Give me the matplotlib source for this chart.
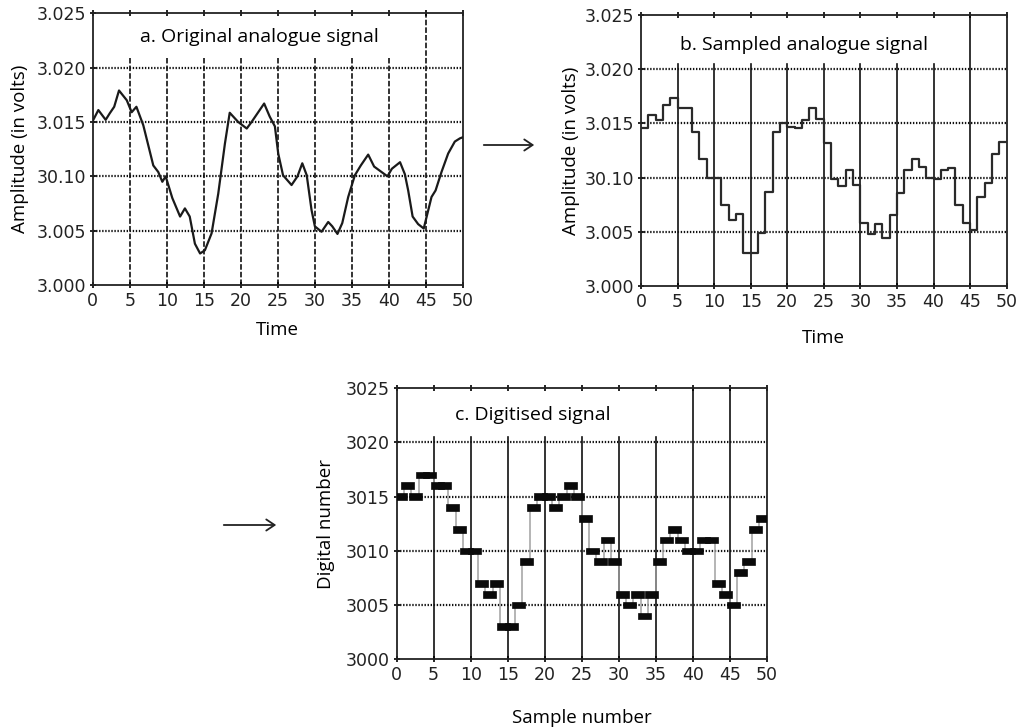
import numpy as np
import matplotlib
matplotlib.use("Agg")
import matplotlib.pyplot as plt

# a. original analogue signal (time, mV above 3.000)
a_time = [0.08, 0.76, 1.75, 2.3, 2.9, 3.55, 4.6, 5.26, 5.9, 6.83, 8.18, 8.85, 9.4, 9.85,
          10.75, 11.8, 12.45, 13.1, 13.8, 14.5, 15.15, 16.05, 16.95, 17.85, 18.5, 19.65,
          20.8, 21.45, 23.15, 23.9, 24.6, 25.05, 25.7, 26.85, 27.65, 28.3, 28.9, 29.55,
          30.0, 30.9, 31.8, 32.35, 33.05, 33.7, 34.5, 35.4, 36.2, 37.2, 38.0, 39.0, 39.8,
          40.4, 41.5, 42.15, 42.6, 43.2, 43.95, 44.7, 45.1, 45.75, 46.3, 47.1, 48.0, 48.9,
          49.6, 50.0]
a_mv = [15.2, 16.1, 15.2, 15.8, 16.4, 17.9, 17.0, 15.9, 16.4, 14.7, 11.0, 10.4, 9.5, 10.0,
        8.0, 6.3, 7.05, 6.3, 3.8, 2.9, 3.2, 4.75, 8.4, 13.0, 15.85, 15.0,
        14.4, 15.0, 16.7, 15.5, 14.6, 12.1, 10.1, 9.2, 10.0, 11.2, 10.1, 6.9,
        5.4, 4.9, 5.8, 5.4, 4.7, 5.7, 8.1, 10.1, 11.0, 12.0, 10.9, 10.4, 10.0,
        10.7, 11.3, 10.2, 8.7, 6.3, 5.6, 5.2, 6.3, 8.1, 8.7, 10.4, 12.1, 13.2,
        13.5, 13.6]

# b. sampled analogue signal, one level per time interval (mV above 3.000)
b_mv = [14.55, 15.8, 15.3, 16.7, 17.3, 16.4, 16.4, 14.2, 11.7, 10.0,
        10.0, 7.5, 6.1, 6.6, 3.07, 3.07, 4.86, 8.7, 14.2, 15.0,
        14.7, 14.55, 15.3, 16.4, 15.4, 13.2, 9.9, 9.2, 10.7, 9.3,
        5.8, 4.8, 5.7, 4.4, 6.55, 8.55, 10.7, 11.7, 11.0, 10.0,
        9.9, 10.7, 10.85, 7.5, 5.8, 5.2, 8.2, 9.5, 12.2, 13.3]

# c. digitised signal
c_dn = [3015, 3016, 3015, 3017, 3017, 3016, 3016, 3014, 3012, 3010,
        3010, 3007, 3006, 3007, 3003, 3003, 3005, 3009, 3014, 3015,
        3015, 3014, 3015, 3016, 3015, 3013, 3010, 3009, 3011, 3009,
        3006, 3005, 3006, 3004, 3006, 3009, 3011, 3012, 3011, 3010,
        3010, 3011, 3011, 3007, 3006, 3005, 3008, 3009, 3012, 3013]

x_ticks = list(range(0, 51, 5))
volt_ticks = [3.000, 3.005, 3.010, 3.015, 3.020, 3.025]
volt_labels = ["3.000", "3.005", "30.10", "3.015", "3.020", "3.025"]
dn_ticks = [3000, 3005, 3010, 3015, 3020, 3025]

plt.rcParams["lines.scale_dashes"] = False
LBL = dict(family=["Open Sans", "DejaVu Sans"], fontsize=13.5)
TTL = dict(family=["Open Sans", "DejaVu Sans"], fontsize=14)

fig = plt.figure(figsize=(10.2, 7.28), dpi=100)
ax_a = fig.add_axes([0.0909, 0.6085, 0.363, 0.3732])
ax_b = fig.add_axes([0.6284, 0.6071, 0.3585, 0.3723])
ax_c = fig.add_axes([0.3889, 0.0944, 0.3627, 0.3723])


def style(ax, yticks, ylabels, ylim, vstyle, vtop, full):
    # vertical grid stops just above the top dotted line, except the 'full' ones
    ax.set_xlim(0, 50)
    ax.set_ylim(*ylim)
    ax.set_xticks(x_ticks)
    ax.set_yticks(yticks)
    ax.set_yticklabels(ylabels)
    ax.tick_params(labelsize=12.5, length=4, width=1.2, direction="inout",
                   top=True, right=False, pad=3)
    for t in ax.get_xticklabels() + ax.get_yticklabels():
        t.set_family("DejaVu Sans")
        t.set_color("#222222")
    for s in ax.spines.values():
        s.set_linewidth(1.3)
        s.set_color("#222222")
    for xv in x_ticks[1:-1]:
        ax.axvline(xv, ymax=1.0 if xv in full else vtop, color="#111111", lw=1.2,
                   zorder=1, **vstyle)
    for yv in yticks[1:-1]:
        ax.axhline(yv, color="#111111", lw=1.6, ls=(0, (1, 1.2)), zorder=1)


style(ax_a, volt_ticks, volt_labels, (3.000, 3.025), dict(ls=(0, (4, 1.5))), 0.834, [45])
ax_a.plot(a_time, 3.0 + np.array(a_mv) / 1000, color="#1a1a1a", lw=1.6, zorder=3)
ax_a.set_xlabel("Time", labelpad=8, **LBL)
ax_a.set_ylabel("Amplitude (in volts)", labelpad=5, **LBL)
ax_a.text(0.449, 0.913, "a. Original analogue signal", transform=ax_a.transAxes,
          ha="center", va="center", **TTL)

style(ax_b, volt_ticks, volt_labels, (3.000, 3.025), dict(ls="-"), 0.818, [45])
b_x = np.arange(len(b_mv) + 1)
b_y = 3.0 + np.array(b_mv + [b_mv[-1]]) / 1000
ax_b.step(b_x, b_y, where="post", color="#2a2a2a", lw=1.6, zorder=3)
ax_b.set_xlabel("Time", labelpad=13, **LBL)
ax_b.set_ylabel("Amplitude (in volts)", labelpad=3, **LBL)
ax_b.text(0.446, 0.889, "b. Sampled analogue signal", transform=ax_b.transAxes,
          ha="center", va="center", **TTL)

style(ax_c, dn_ticks, [str(v) for v in dn_ticks], (3000, 3025), dict(ls="-"), 0.82, [40, 45])
c_x = np.arange(len(c_dn)) + 0.5
ax_c.step(c_x, c_dn, where="mid", color="#a0a0a0", lw=1.1, zorder=2)
ax_c.bar(c_x, 0.62, width=1.75, bottom=np.array(c_dn) - 0.31, color="#0a0a0a",
         edgecolor="#0a0a0a", lw=0.5, zorder=3)
ax_c.set_xlabel("Sample number", labelpad=18, **LBL)
ax_c.set_ylabel("Digital number", labelpad=8, **LBL)
ax_c.text(0.158, 0.901, "c. Digitised signal", transform=ax_c.transAxes,
          ha="left", va="center", **TTL)

# arrows between panels
fig.add_artist(matplotlib.patches.FancyArrowPatch(
    (481 / 1020, 1 - 145 / 728), (537 / 1020, 1 - 145 / 728), transform=fig.transFigure,
    arrowstyle="->,head_length=6,head_width=4", lw=1.3, color="#222222"))
fig.add_artist(matplotlib.patches.FancyArrowPatch(
    (221 / 1020, 1 - 525 / 728), (279 / 1020, 1 - 525 / 728), transform=fig.transFigure,
    arrowstyle="->,head_length=6,head_width=4", lw=1.3, color="#222222"))

fig.savefig("out.png", dpi=100)
